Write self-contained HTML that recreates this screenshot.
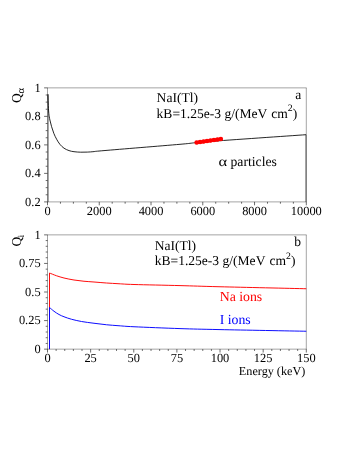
<!DOCTYPE html>
<html><head><meta charset="utf-8"><style>
html,body{margin:0;padding:0;background:#fff;}
body{width:360px;height:466px;overflow:hidden;}
svg{display:block;font-family:"Liberation Serif",serif;text-rendering:geometricPrecision;will-change:transform;}
</style></head><body>
<svg width="360" height="466" viewBox="0 0 360 466">
<rect width="360" height="466" fill="#fff"/>
<line x1="47.30" y1="87.86" x2="306.50" y2="87.86" stroke="#000" stroke-width="0.36"/>
<line x1="47.30" y1="201.90" x2="306.50" y2="201.90" stroke="#000" stroke-width="0.36"/>
<line x1="47.50" y1="87.86" x2="47.50" y2="94.30" stroke="#000" stroke-width="0.37"/>
<line x1="306.30" y1="87.86" x2="306.30" y2="134.70" stroke="#000" stroke-width="0.36"/>
<line x1="47.50" y1="201.90" x2="47.50" y2="205.30" stroke="#000" stroke-width="0.58"/>
<text x="47.50" y="215.40" font-size="12.4" text-anchor="middle" fill="#000" >0</text>
<line x1="60.44" y1="201.90" x2="60.44" y2="203.70" stroke="#000" stroke-width="0.58"/>
<line x1="73.38" y1="201.90" x2="73.38" y2="203.70" stroke="#000" stroke-width="0.58"/>
<line x1="86.32" y1="201.90" x2="86.32" y2="203.70" stroke="#000" stroke-width="0.58"/>
<line x1="99.26" y1="201.90" x2="99.26" y2="205.30" stroke="#000" stroke-width="0.58"/>
<text x="99.26" y="215.40" font-size="12.4" text-anchor="middle" fill="#000" >2000</text>
<line x1="112.20" y1="201.90" x2="112.20" y2="203.70" stroke="#000" stroke-width="0.58"/>
<line x1="125.14" y1="201.90" x2="125.14" y2="203.70" stroke="#000" stroke-width="0.58"/>
<line x1="138.08" y1="201.90" x2="138.08" y2="203.70" stroke="#000" stroke-width="0.58"/>
<line x1="151.02" y1="201.90" x2="151.02" y2="205.30" stroke="#000" stroke-width="0.58"/>
<text x="151.02" y="215.40" font-size="12.4" text-anchor="middle" fill="#000" >4000</text>
<line x1="163.96" y1="201.90" x2="163.96" y2="203.70" stroke="#000" stroke-width="0.58"/>
<line x1="176.90" y1="201.90" x2="176.90" y2="203.70" stroke="#000" stroke-width="0.58"/>
<line x1="189.84" y1="201.90" x2="189.84" y2="203.70" stroke="#000" stroke-width="0.58"/>
<line x1="202.78" y1="201.90" x2="202.78" y2="205.30" stroke="#000" stroke-width="0.58"/>
<text x="202.78" y="215.40" font-size="12.4" text-anchor="middle" fill="#000" >6000</text>
<line x1="215.72" y1="201.90" x2="215.72" y2="203.70" stroke="#000" stroke-width="0.58"/>
<line x1="228.66" y1="201.90" x2="228.66" y2="203.70" stroke="#000" stroke-width="0.58"/>
<line x1="241.60" y1="201.90" x2="241.60" y2="203.70" stroke="#000" stroke-width="0.58"/>
<line x1="254.54" y1="201.90" x2="254.54" y2="205.30" stroke="#000" stroke-width="0.58"/>
<text x="254.54" y="215.40" font-size="12.4" text-anchor="middle" fill="#000" >8000</text>
<line x1="267.48" y1="201.90" x2="267.48" y2="203.70" stroke="#000" stroke-width="0.58"/>
<line x1="280.42" y1="201.90" x2="280.42" y2="203.70" stroke="#000" stroke-width="0.58"/>
<line x1="293.36" y1="201.90" x2="293.36" y2="203.70" stroke="#000" stroke-width="0.58"/>
<line x1="306.30" y1="201.90" x2="306.30" y2="205.30" stroke="#000" stroke-width="0.58"/>
<text x="306.30" y="215.40" font-size="12.4" text-anchor="middle" fill="#000" >10000</text>
<line x1="47.50" y1="201.90" x2="44.10" y2="201.90" stroke="#000" stroke-width="0.58"/>
<text x="40.60" y="205.80" font-size="12.4" text-anchor="end" fill="#000" >0.2</text>
<line x1="47.50" y1="194.77" x2="45.70" y2="194.77" stroke="#000" stroke-width="0.58"/>
<line x1="47.50" y1="187.65" x2="45.70" y2="187.65" stroke="#000" stroke-width="0.58"/>
<line x1="47.50" y1="180.52" x2="45.70" y2="180.52" stroke="#000" stroke-width="0.58"/>
<line x1="47.50" y1="173.39" x2="44.10" y2="173.39" stroke="#000" stroke-width="0.58"/>
<text x="40.60" y="177.29" font-size="12.4" text-anchor="end" fill="#000" >0.4</text>
<line x1="47.50" y1="166.26" x2="45.70" y2="166.26" stroke="#000" stroke-width="0.58"/>
<line x1="47.50" y1="159.14" x2="45.70" y2="159.14" stroke="#000" stroke-width="0.58"/>
<line x1="47.50" y1="152.01" x2="45.70" y2="152.01" stroke="#000" stroke-width="0.58"/>
<line x1="47.50" y1="144.88" x2="44.10" y2="144.88" stroke="#000" stroke-width="0.58"/>
<text x="40.60" y="148.78" font-size="12.4" text-anchor="end" fill="#000" >0.6</text>
<line x1="47.50" y1="137.75" x2="45.70" y2="137.75" stroke="#000" stroke-width="0.58"/>
<line x1="47.50" y1="130.62" x2="45.70" y2="130.62" stroke="#000" stroke-width="0.58"/>
<line x1="47.50" y1="123.50" x2="45.70" y2="123.50" stroke="#000" stroke-width="0.58"/>
<line x1="47.50" y1="116.37" x2="44.10" y2="116.37" stroke="#000" stroke-width="0.58"/>
<text x="40.60" y="120.27" font-size="12.4" text-anchor="end" fill="#000" >0.8</text>
<line x1="47.50" y1="109.24" x2="45.70" y2="109.24" stroke="#000" stroke-width="0.58"/>
<line x1="47.50" y1="102.11" x2="45.70" y2="102.11" stroke="#000" stroke-width="0.58"/>
<line x1="47.50" y1="94.99" x2="45.70" y2="94.99" stroke="#000" stroke-width="0.58"/>
<line x1="47.50" y1="87.86" x2="44.10" y2="87.86" stroke="#000" stroke-width="0.58"/>
<text x="40.60" y="91.76" font-size="12.4" text-anchor="end" fill="#000" >1</text>
<path d="M47.92,201.90 L47.92,94.30 C47.97,95.75 48.05,99.83 48.20,103.00 C48.35,106.17 48.52,110.47 48.80,113.30 C49.08,116.13 49.43,117.77 49.90,120.00 C50.37,122.23 50.95,124.48 51.60,126.70 C52.25,128.92 52.97,131.22 53.80,133.30 C54.63,135.38 55.58,137.37 56.60,139.20 C57.62,141.03 58.67,142.80 59.90,144.30 C61.13,145.80 62.48,147.15 64.00,148.20 C65.52,149.25 67.33,150.02 69.00,150.60 C70.67,151.18 72.05,151.43 74.00,151.70 C75.95,151.97 78.48,152.13 80.70,152.20 C82.92,152.27 85.08,152.20 87.30,152.10 C89.52,152.00 91.22,151.85 94.00,151.60 C96.78,151.35 89.67,151.82 104.00,150.60 C118.33,149.38 162.67,145.80 180.00,144.30 C197.33,142.80 186.99,143.20 208.00,141.60 C229.01,140.00 289.73,135.85 306.08,134.70 L306.08,201.9" fill="none" stroke="#000" stroke-width="0.85" stroke-linejoin="round"/>
<line x1="196.6" y1="142.6" x2="220.9" y2="139.1" stroke="#ff0000" stroke-width="3.3"/>
<circle cx="196.60" cy="142.60" r="2.25" fill="#ff0000"/>
<circle cx="200.07" cy="142.10" r="2.25" fill="#ff0000"/>
<circle cx="203.54" cy="141.60" r="2.25" fill="#ff0000"/>
<circle cx="207.01" cy="141.10" r="2.25" fill="#ff0000"/>
<circle cx="210.48" cy="140.60" r="2.25" fill="#ff0000"/>
<circle cx="213.95" cy="140.10" r="2.25" fill="#ff0000"/>
<circle cx="217.42" cy="139.60" r="2.25" fill="#ff0000"/>
<circle cx="220.89" cy="139.10" r="2.25" fill="#ff0000"/>
<text x="156.60" y="102.00" font-size="13.55" text-anchor="start" fill="#000" >NaI(Tl)</text>
<text x="156.60" y="117.50" font-size="13.55" text-anchor="start" fill="#000" >kB=1.25e-3 g/(MeV <tspan dx="0.7">cm</tspan><tspan font-size="9.8" dy="-6.3">2</tspan><tspan dy="6.3">)</tspan></text>
<text x="295.30" y="98.80" font-size="13.55" text-anchor="start" fill="#000" >a</text>
<text transform="translate(218.5,165.5) scale(1.22,1.02)" font-size="13.55" fill="#000">α</text>
<text x="230.50" y="165.50" font-size="13.7" text-anchor="start" fill="#000" >particles</text>
<text transform="translate(20.6,103.0) rotate(-90)" font-size="13.55" fill="#000">Q<tspan font-size="10.5" dy="3.7" dx="-0.3">α</tspan></text>
<line x1="47.30" y1="234.86" x2="306.50" y2="234.86" stroke="#000" stroke-width="0.36"/>
<line x1="47.30" y1="349.15" x2="306.50" y2="349.15" stroke="#000" stroke-width="0.36"/>
<line x1="47.50" y1="234.86" x2="47.50" y2="349.15" stroke="#000" stroke-width="0.37"/>
<line x1="306.30" y1="234.86" x2="306.30" y2="349.15" stroke="#000" stroke-width="0.36"/>
<line x1="47.50" y1="349.15" x2="47.50" y2="352.55" stroke="#000" stroke-width="0.58"/>
<text x="47.50" y="362.40" font-size="12.4" text-anchor="middle" fill="#000" >0</text>
<line x1="56.13" y1="349.15" x2="56.13" y2="350.95" stroke="#000" stroke-width="0.58"/>
<line x1="64.75" y1="349.15" x2="64.75" y2="350.95" stroke="#000" stroke-width="0.58"/>
<line x1="73.38" y1="349.15" x2="73.38" y2="350.95" stroke="#000" stroke-width="0.58"/>
<line x1="82.01" y1="349.15" x2="82.01" y2="350.95" stroke="#000" stroke-width="0.58"/>
<line x1="90.63" y1="349.15" x2="90.63" y2="352.55" stroke="#000" stroke-width="0.58"/>
<text x="90.63" y="362.40" font-size="12.4" text-anchor="middle" fill="#000" >25</text>
<line x1="99.26" y1="349.15" x2="99.26" y2="350.95" stroke="#000" stroke-width="0.58"/>
<line x1="107.89" y1="349.15" x2="107.89" y2="350.95" stroke="#000" stroke-width="0.58"/>
<line x1="116.51" y1="349.15" x2="116.51" y2="350.95" stroke="#000" stroke-width="0.58"/>
<line x1="125.14" y1="349.15" x2="125.14" y2="350.95" stroke="#000" stroke-width="0.58"/>
<line x1="133.77" y1="349.15" x2="133.77" y2="352.55" stroke="#000" stroke-width="0.58"/>
<text x="133.77" y="362.40" font-size="12.4" text-anchor="middle" fill="#000" >50</text>
<line x1="142.39" y1="349.15" x2="142.39" y2="350.95" stroke="#000" stroke-width="0.58"/>
<line x1="151.02" y1="349.15" x2="151.02" y2="350.95" stroke="#000" stroke-width="0.58"/>
<line x1="159.65" y1="349.15" x2="159.65" y2="350.95" stroke="#000" stroke-width="0.58"/>
<line x1="168.27" y1="349.15" x2="168.27" y2="350.95" stroke="#000" stroke-width="0.58"/>
<line x1="176.90" y1="349.15" x2="176.90" y2="352.55" stroke="#000" stroke-width="0.58"/>
<text x="176.90" y="362.40" font-size="12.4" text-anchor="middle" fill="#000" >75</text>
<line x1="185.53" y1="349.15" x2="185.53" y2="350.95" stroke="#000" stroke-width="0.58"/>
<line x1="194.15" y1="349.15" x2="194.15" y2="350.95" stroke="#000" stroke-width="0.58"/>
<line x1="202.78" y1="349.15" x2="202.78" y2="350.95" stroke="#000" stroke-width="0.58"/>
<line x1="211.41" y1="349.15" x2="211.41" y2="350.95" stroke="#000" stroke-width="0.58"/>
<line x1="220.03" y1="349.15" x2="220.03" y2="352.55" stroke="#000" stroke-width="0.58"/>
<text x="220.03" y="362.40" font-size="12.4" text-anchor="middle" fill="#000" >100</text>
<line x1="228.66" y1="349.15" x2="228.66" y2="350.95" stroke="#000" stroke-width="0.58"/>
<line x1="237.29" y1="349.15" x2="237.29" y2="350.95" stroke="#000" stroke-width="0.58"/>
<line x1="245.91" y1="349.15" x2="245.91" y2="350.95" stroke="#000" stroke-width="0.58"/>
<line x1="254.54" y1="349.15" x2="254.54" y2="350.95" stroke="#000" stroke-width="0.58"/>
<line x1="263.17" y1="349.15" x2="263.17" y2="352.55" stroke="#000" stroke-width="0.58"/>
<text x="263.17" y="362.40" font-size="12.4" text-anchor="middle" fill="#000" >125</text>
<line x1="271.79" y1="349.15" x2="271.79" y2="350.95" stroke="#000" stroke-width="0.58"/>
<line x1="280.42" y1="349.15" x2="280.42" y2="350.95" stroke="#000" stroke-width="0.58"/>
<line x1="289.05" y1="349.15" x2="289.05" y2="350.95" stroke="#000" stroke-width="0.58"/>
<line x1="297.67" y1="349.15" x2="297.67" y2="350.95" stroke="#000" stroke-width="0.58"/>
<line x1="306.30" y1="349.15" x2="306.30" y2="352.55" stroke="#000" stroke-width="0.58"/>
<text x="306.30" y="362.40" font-size="12.4" text-anchor="middle" fill="#000" >150</text>
<line x1="47.50" y1="349.15" x2="44.10" y2="349.15" stroke="#000" stroke-width="0.58"/>
<text x="40.60" y="353.05" font-size="12.4" text-anchor="end" fill="#000" >0</text>
<line x1="47.50" y1="343.44" x2="45.70" y2="343.44" stroke="#000" stroke-width="0.58"/>
<line x1="47.50" y1="337.72" x2="45.70" y2="337.72" stroke="#000" stroke-width="0.58"/>
<line x1="47.50" y1="332.01" x2="45.70" y2="332.01" stroke="#000" stroke-width="0.58"/>
<line x1="47.50" y1="326.29" x2="45.70" y2="326.29" stroke="#000" stroke-width="0.58"/>
<line x1="47.50" y1="320.58" x2="44.10" y2="320.58" stroke="#000" stroke-width="0.58"/>
<text x="40.60" y="324.48" font-size="12.4" text-anchor="end" fill="#000" >0.25</text>
<line x1="47.50" y1="314.86" x2="45.70" y2="314.86" stroke="#000" stroke-width="0.58"/>
<line x1="47.50" y1="309.15" x2="45.70" y2="309.15" stroke="#000" stroke-width="0.58"/>
<line x1="47.50" y1="303.43" x2="45.70" y2="303.43" stroke="#000" stroke-width="0.58"/>
<line x1="47.50" y1="297.72" x2="45.70" y2="297.72" stroke="#000" stroke-width="0.58"/>
<line x1="47.50" y1="292.00" x2="44.10" y2="292.00" stroke="#000" stroke-width="0.58"/>
<text x="40.60" y="295.90" font-size="12.4" text-anchor="end" fill="#000" >0.5</text>
<line x1="47.50" y1="286.29" x2="45.70" y2="286.29" stroke="#000" stroke-width="0.58"/>
<line x1="47.50" y1="280.58" x2="45.70" y2="280.58" stroke="#000" stroke-width="0.58"/>
<line x1="47.50" y1="274.86" x2="45.70" y2="274.86" stroke="#000" stroke-width="0.58"/>
<line x1="47.50" y1="269.15" x2="45.70" y2="269.15" stroke="#000" stroke-width="0.58"/>
<line x1="47.50" y1="263.43" x2="44.10" y2="263.43" stroke="#000" stroke-width="0.58"/>
<text x="40.60" y="267.33" font-size="12.4" text-anchor="end" fill="#000" >0.75</text>
<line x1="47.50" y1="257.72" x2="45.70" y2="257.72" stroke="#000" stroke-width="0.58"/>
<line x1="47.50" y1="252.00" x2="45.70" y2="252.00" stroke="#000" stroke-width="0.58"/>
<line x1="47.50" y1="246.29" x2="45.70" y2="246.29" stroke="#000" stroke-width="0.58"/>
<line x1="47.50" y1="240.57" x2="45.70" y2="240.57" stroke="#000" stroke-width="0.58"/>
<line x1="47.50" y1="234.86" x2="44.10" y2="234.86" stroke="#000" stroke-width="0.58"/>
<text x="40.60" y="238.76" font-size="12.4" text-anchor="end" fill="#000" >1</text>
<path d="M49.50,349.15 L49.50,273.00 C50.67,273.46 54.08,274.92 56.50,275.75 C58.92,276.58 61.08,277.29 64.00,278.00 C66.92,278.71 70.67,279.46 74.00,280.00 C77.33,280.54 80.67,280.92 84.00,281.25 C87.33,281.58 90.25,281.71 94.00,282.00 C97.75,282.29 102.33,282.71 106.50,283.00 C110.67,283.29 114.42,283.50 119.00,283.75 C123.58,284.00 123.83,284.19 134.00,284.50 C144.17,284.81 165.67,285.23 180.00,285.60 C194.33,285.98 198.95,286.23 220.00,286.75 C241.05,287.27 291.92,288.42 306.30,288.75" fill="none" stroke="#ff0000" stroke-width="0.95" stroke-linejoin="miter"/>
<path d="M49.50,349.15 L49.50,307.50 C50.25,308.12 52.42,310.08 54.00,311.25 C55.58,312.42 57.33,313.58 59.00,314.50 C60.67,315.42 61.92,315.96 64.00,316.75 C66.08,317.54 68.58,318.46 71.50,319.25 C74.42,320.04 77.75,320.83 81.50,321.50 C85.25,322.17 89.83,322.71 94.00,323.25 C98.17,323.79 102.33,324.33 106.50,324.75 C110.67,325.17 114.42,325.42 119.00,325.75 C123.58,326.08 123.83,326.27 134.00,326.75 C144.17,327.23 165.67,328.12 180.00,328.60 C194.33,329.08 198.95,329.16 220.00,329.60 C241.05,330.04 291.92,330.98 306.30,331.25" fill="none" stroke="#0000ff" stroke-width="0.95" stroke-linejoin="miter"/>
<text x="154.70" y="249.80" font-size="13.55" text-anchor="start" fill="#000" >NaI(Tl)</text>
<text x="154.70" y="265.00" font-size="13.55" text-anchor="start" fill="#000" >kB=1.25e-3 g/(MeV <tspan dx="0.9">cm</tspan><tspan font-size="9.8" dy="-6.3">2</tspan><tspan dy="6.3">)</tspan></text>
<text x="294.30" y="246.30" font-size="13.55" text-anchor="start" fill="#000" >b</text>
<text x="219.70" y="300.60" font-size="13.8" text-anchor="start" fill="#ff0000" >Na ions</text>
<text x="219.70" y="323.70" font-size="13.8" text-anchor="start" fill="#0000ff" >I ions</text>
<text x="305.30" y="374.60" font-size="12.2" text-anchor="end" fill="#000" >Energy (keV)</text>
<text transform="translate(20.6,246.5) rotate(-90)" font-size="13.55" fill="#000">Q<tspan font-size="9.5" dy="3.6" dx="-0.9">i</tspan></text>
</svg>
</body></html>
